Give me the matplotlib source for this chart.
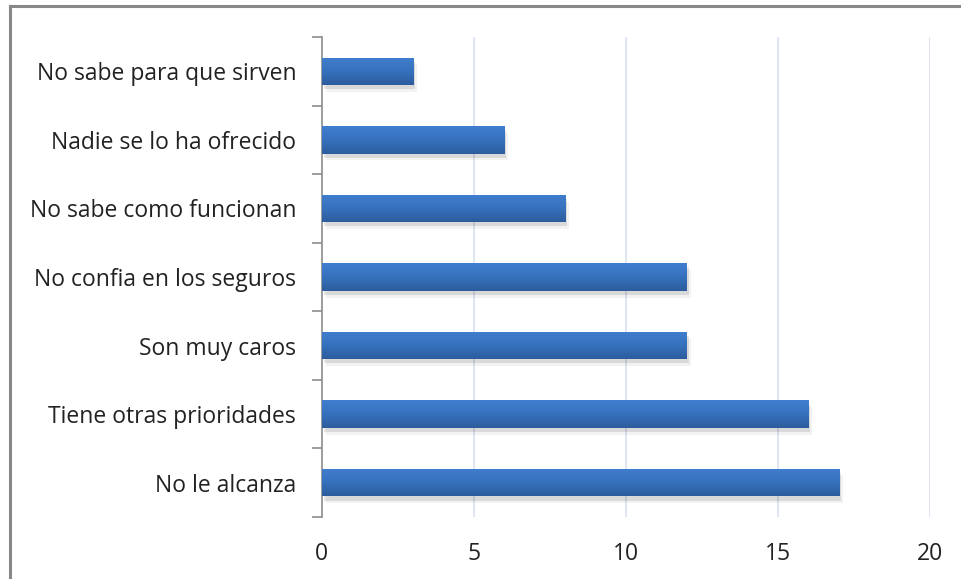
import matplotlib
matplotlib.use("Agg")
import matplotlib.pyplot as plt
import numpy as np
from matplotlib.lines import Line2D
from matplotlib.patches import Rectangle
from matplotlib.colors import LinearSegmentedColormap

categories = ["No le alcanza", "Tiene otras prioridades", "Son muy caros",
              "No confia en los seguros", "No sabe como funcionan",
              "Nadie se lo ha ofrecido", "No sabe para que sirven"]
values = [17, 16, 12, 12, 8, 6, 3]
xticks = [0, 5, 10, 15, 20]

plt.rcParams['font.family'] = ['Open Sans', 'DejaVu Sans']

fig = plt.figure(figsize=(9.61, 5.79), dpi=100)
ax = fig.add_axes([0.335, 0.107, 0.633, 0.829])

y = np.arange(len(categories))
bh = 0.4
bars = ax.barh(y, values, height=bh, color='none', zorder=3)

grad = np.linspace(0, 1, 256).reshape(-1, 1)
cmap = LinearSegmentedColormap.from_list('g', ['#2c5c9c', '#3671bd', '#407fcf'])
for b in bars:
    x0, y0 = b.get_x(), b.get_y()
    w, h = b.get_width(), b.get_height()
    ax.add_patch(Rectangle((x0 + 0.06, y0 - 0.06), w, h, facecolor='#000000',
                           alpha=0.10, edgecolor='none', zorder=2))
    ax.add_patch(Rectangle((x0 + 0.12, y0 - 0.10), w, h, facecolor='#000000',
                           alpha=0.05, edgecolor='none', zorder=2))
    im = ax.imshow(grad, extent=(x0, x0 + w, y0, y0 + h), aspect='auto',
                   cmap=cmap, origin='lower', zorder=3, interpolation='bicubic')
    im.set_clip_path(b)

ax.set_xlim(0, 20)
ax.set_ylim(-0.5, len(categories) - 0.5)
ax.set_xticks(xticks)
ax.set_xticklabels([str(t) for t in xticks], fontsize=16.5, color='#222222')
ax.set_yticks(y)
ax.set_yticklabels(categories, fontsize=16.5, color='#222222')
ax.tick_params(axis='y', length=0, pad=18.5)
ax.tick_params(axis='x', length=0, pad=18)
ax.set_yticks(np.arange(-0.5, len(categories)), minor=True)
ax.tick_params(axis='y', which='minor', length=7, color='#8c8c8c', width=1.2)

for t in xticks[1:]:
    ax.axvline(t, color='#dce3f1', lw=1.3, zorder=1)

for s in ['top', 'right', 'bottom']:
    ax.spines[s].set_visible(False)
ax.spines['left'].set_color('#8c8c8c')
ax.spines['left'].set_linewidth(1.2)

fig.add_artist(Line2D([0.0104, 0.0104], [0, 0.989], transform=fig.transFigure,
                      color='#888888', lw=2.2))
fig.add_artist(Line2D([0.0104, 1.0], [0.989, 0.989], transform=fig.transFigure,
                      color='#888888', lw=2.2))

fig.savefig('out.png', dpi=100)
